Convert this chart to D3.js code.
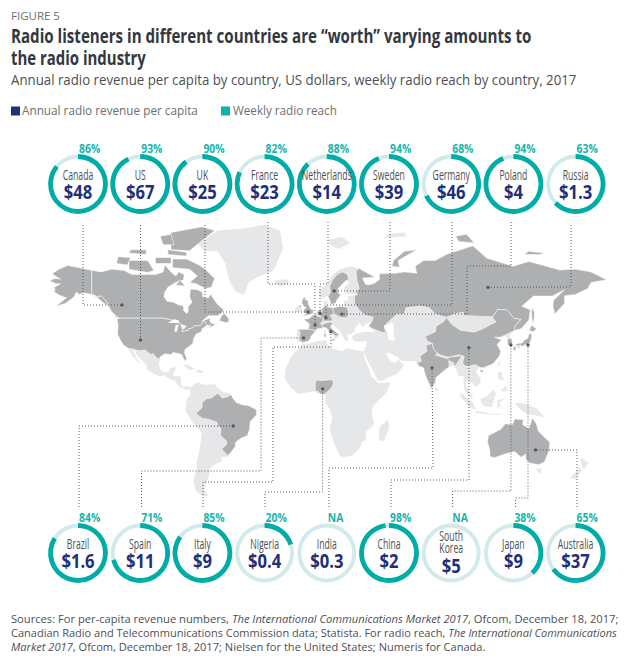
<!DOCTYPE html>
<html>
<head>
<meta charset="utf-8">
<script src="https://cdn.jsdelivr.net/npm/d3@7"></script>
<style>
  html, body { margin: 0; padding: 0; background: #fff; }
  text { font-family: "Open Sans", sans-serif; }
</style>
</head>
<body>
<div id="chart-area"></div>
<script>
// ---- chart values ----
const topCountries = ["Canada","US","UK","France","Netherlands","Sweden","Germany","Poland","Russia"]
const topReach = [86,93,90,82,88,94,68,94,63]
const topRevenue = ["$48","$67","$25","$23","$14","$39","$46","$4","$1.3"]

const bottomCountries = ["Brazil","Spain","Italy","Nigeria","India","China","South Korea","Japan","Australia"]
const bottomReach = [84,71,85,20,null,98,null,38,65]
const bottomRevenue = ["$1.6","$11","$9","$0.4","$0.3","$2","$5","$9","$37"]

// marked location of each country, [lon, lat]
const topSpots = [[-121.5,55.3],[-109.6,37.5],[-1.9,52],[2.6,45.5],[5.8,51.3],[14.8,61.5],[9.6,49.2],[19.9,51],[113.8,63]]
const bottomSpots = [[-50,-16],[-4.8,38.6],[12.7,42],[7.5,7.8],[77.8,21],[101.5,33],[128.5,34.6],[139.5,34.6],[144.3,-30.5]]

// ---- land outlines, [lon, lat] ----
const alaska = [[-141,69.6],[-148,70.4],[-156.5,71.3],[-162,70],[-166.5,68.3],[-163,67],[-161,66.3],[-165,66.5],[-168,65.6],[-164,64.5],[-161,64.5],[-165,63],[-164.5,61.5],[-166,61.5],[-162,59.8],[-158,58.7],[-157,58.7],[-164,54.7],[-158,56],[-154,58],[-152,59.3],[-151,61],[-149,60],[-146,60.7],[-141,60],[-137,58.5],[-133,56],[-130,55],[-131,56.5],[-135,59.5],[-137,59],[-141,60.3]]
const canada = [[-141,69.6],[-135,69],[-128,70],[-120,69.5],[-115,68],[-108,68],[-100,68],[-95,69],[-94,71.5],[-90,69],[-87,67.5],[-85,69],[-81.5,68],[-82,66],[-87,65],[-92,63],[-94,61],[-94.5,59],[-92.5,57],[-88,56.5],[-85,55.3],[-82,55],[-82,52.8],[-80,51.3],[-79,52],[-79,54.5],[-76.5,56.5],[-78,59],[-77.5,62.3],[-73,62],[-70,61],[-69.5,59],[-66,58.5],[-64.5,60.2],[-62,57.5],[-60,55.5],[-56,53],[-58,51.2],[-60,50.2],[-66,50.2],[-70,47.5],[-65,49],[-65,47.5],[-64,46.3],[-61,46],[-60,46.8],[-63,45],[-66,44],[-64.5,45.5],[-67,45.2],[-67.8,47],[-69.3,47.4],[-71,45.2],[-75,45],[-76.5,44],[-79,43.4],[-79,42.8],[-83,42],[-82.5,45],[-84.5,46.5],[-88,48],[-89.5,48],[-95,49],[-123,49],[-125,50],[-128,52],[-130,54.5],[-130,55],[-131,56.5],[-135,59.5],[-137,59],[-141,60.3]]
const canadaIslands = [
  [[-80,73.5],[-72,71.5],[-68,70],[-62,66.5],[-64,63],[-68,62.5],[-74,64.5],[-78,65],[-73,67.5],[-78,70],[-89,70.5],[-89,73.5]],
  [[-117,70],[-105,68.8],[-101,69.5],[-105,73],[-117,73]],
  [[-125,72],[-118,71.5],[-116,74],[-124,74.3]],
  [[-90,76.5],[-78,76.2],[-72,78.5],[-62,82],[-70,83],[-90,81.5]],
  [[-92,75],[-80,74.5],[-80,75.7],[-92,76.5]],
  [[-117,75.5],[-106,75],[-106,76.5],[-116,76.5]],
  [[-95,78],[-88,78],[-90,81],[-97,80.5]],
  [[-100,72],[-90,72],[-90,74],[-100,74]],
  [[-87,64],[-81,63.5],[-84,65.8]],
  [[-59,47.7],[-55,46.8],[-52.8,47],[-53,49],[-56,51.5],[-57.5,50]],
  [[-128,50.7],[-123.5,48.5],[-125,50]]
]
const usa = [[-123,49],[-95,49],[-89.5,48],[-88,48],[-84.5,46.5],[-82.5,45],[-83,42],[-79,42.8],[-79,43.4],[-76.5,44],[-75,45],[-71,45.2],[-69.3,47.4],[-67.8,47],[-67,45.2],[-70,43.5],[-70.5,42],[-74,40.6],[-75.5,38],[-76,35.5],[-78,34],[-81,32],[-81.3,30],[-80,26.8],[-80.5,25.2],[-82,26.5],[-83,29],[-85,29.7],[-89,30.3],[-89.5,29],[-94,29.5],[-97.2,27.5],[-97.2,26],[-99.5,27.5],[-101.5,29.7],[-103,29],[-106.5,31.7],[-111,31.3],[-114.8,32.5],[-117.2,32.6],[-120.6,34.6],[-122.5,37.5],[-124.3,40.4],[-124,46],[-124.7,48.3]]
const mexico = [[-117.2,32.6],[-114.8,32.5],[-111,31.3],[-106.5,31.7],[-103,29],[-101.5,29.7],[-99.5,27.5],[-97.2,26],[-97.8,22.5],[-96,19],[-94,18.2],[-91,18.7],[-90.5,21],[-87,21.5],[-88,18],[-88.8,15.9],[-84,15.8],[-83.3,13],[-83.7,10.8],[-82,9],[-79.5,9.5],[-77.3,8.7],[-78,7.5],[-80.3,7.3],[-83,8.3],[-85.7,10],[-87.5,13],[-91,14],[-94.5,16.2],[-97,15.8],[-101.5,17.5],[-105.5,20],[-105.5,22.5],[-109,25.8],[-112.5,29.5],[-113,31.2],[-114.8,31.8],[-111,25],[-109.5,23],[-112,25],[-115,28.5]]
const southAmerica = [[-77.3,8.7],[-75,11],[-72,12],[-71,11],[-68,10.5],[-62,10.7],[-60,8.5],[-57,6],[-52,4.8],[-50,1.5],[-48,-1],[-44,-2.5],[-40,-3],[-35.2,-5.5],[-35,-9],[-39,-13],[-39.5,-18],[-41,-22],[-45,-23.5],[-48.5,-26],[-48.7,-28.5],[-52,-32.5],[-54,-34.7],[-58,-34.5],[-57,-37],[-62,-39],[-65,-41],[-65.5,-45],[-68,-50],[-68.5,-52.5],[-65.5,-55],[-70,-55],[-74.5,-52],[-75.5,-47],[-73.5,-42],[-73.5,-37],[-71.5,-30],[-70.2,-20],[-76,-14],[-81,-6],[-80,-2],[-80,1],[-77.5,4],[-78,7.5]]
const brazil = [[-51.5,4],[-50,1.5],[-48,-1],[-44,-2.5],[-40,-3],[-35.2,-5.5],[-35,-9],[-39,-13],[-39.5,-18],[-41,-22],[-45,-23.5],[-48.5,-26],[-48.7,-28.5],[-52,-32.5],[-53.5,-33.7],[-57.5,-30],[-54,-27],[-54.5,-25],[-58,-22],[-58,-17],[-60,-16],[-60.5,-13.5],[-65,-12],[-70,-11],[-74,-8],[-70,-4.3],[-70,-1],[-67,1.5],[-64,2],[-60,5],[-57,2],[-54,2.5]]
const africa = [[-5.9,35.8],[-2,35],[3,36.8],[10,37.3],[11,34],[15,32.3],[20,31],[23,32.7],[32,31],[34.2,31.3],[34,28],[35.5,24],[37,21],[39,15.5],[43,11.5],[51,11.8],[49,6],[44,1],[40,-3],[39,-7],[40.5,-15],[35,-20],[35.5,-24],[32.8,-26],[31,-30],[26,-34],[20,-34.8],[18,-33],[15,-27],[12,-18],[13.7,-11],[12,-5],[9,-1],[9.5,3.7],[6,4.3],[2,6.3],[-4,5.2],[-8,4.5],[-13,8.5],[-17,14.7],[-16.5,20],[-13,27.5],[-9.7,31],[-6.5,34]]
const nigeria = [[2.7,6.4],[2.8,12],[4,13.5],[7,13],[10,13.3],[13.5,13.7],[14.5,11.5],[13.5,9],[11.8,7],[8.8,4.5],[6,4.3],[4.5,6.3]]
const eurasia = [[-9,37],[-9.3,38.7],[-8.8,43.2],[-1.5,43.5],[-1,46],[-4.7,48.4],[-1.5,48.7],[1.5,50.5],[4,52],[6,53.5],[8.5,54],[8.2,57],[10.5,57.5],[10.5,55],[12,54.2],[14,54],[18.5,54.7],[21,55.3],[21.3,57.3],[24,57.2],[23.5,59.3],[28,59.6],[30,60],[25,60.2],[21.5,60.7],[21.5,63],[25,65],[22.5,65.8],[17.5,62.5],[17.5,60.7],[19,59.8],[16.5,57.5],[16,56.2],[13,55.5],[11.5,58.5],[10.5,59.3],[8,58.1],[5.3,59],[5,62],[10,64],[14,68],[19,70],[25.5,71],[31,70.2],[41,67],[33,66.7],[35,64.3],[37,64],[40.5,64.6],[44,66],[44,68.3],[54,68.5],[60,69],[68,68.5],[67,71],[72.5,73],[80,73],[87,75],[104,77.7],[113,73.8],[130,71],[140,72.7],[160,69.7],[170,70],[180,69],[190,66],[180,65],[178,62.5],[170,60],[163,59.5],[163,56],[156.7,51],[155.5,55],[156,57.5],[163,62],[155,59.3],[143,59.3],[135.5,54.7],[141,53],[140,48],[135,43.5],[132,43],[130,42.3],[127.5,39.7],[129.4,37],[129,35.2],[126.5,34.5],[126.5,37.7],[125,39.7],[121.5,39],[118,39],[122.5,37.3],[119.5,35],[122,31],[121,28],[117,23.5],[110.5,21],[108,21.6],[106,19],[109,14],[109,11.5],[105,8.7],[105,10.5],[100.5,13.5],[99.5,10],[103.5,4],[104,1.3],[101,3],[98.3,8],[98,16],[94.5,16],[94,19],[91.5,22.5],[88.5,21.7],[86.5,20],[80.3,15],[80,12],[77.5,8],[74.5,14],[72.8,19],[72.5,21],[69,22.3],[67,25],[62,25.2],[57,25.7],[56.5,27],[50.5,30],[48,30],[50,26.5],[51.5,25],[54,24],[56.3,26],[59.8,22.5],[55,17],[52,16],[45,12.8],[43,13],[39,21],[35,28],[34.2,31.3],[35.8,35.5],[36,36.8],[30.5,36.3],[27.3,37],[26.3,39.5],[29,41],[35,42],[41.5,41.5],[37,44.8],[39,47],[35,46],[33.5,44.5],[31,46.5],[28.5,44],[28,41.8],[26,40.7],[23,40.5],[24,38],[22.5,36.5],[19.5,41],[19,42.3],[13.8,45.6],[12.3,45],[16,41.5],[18.5,40],[16,38],[12,42],[8.8,44.3],[4,43.5],[3,42],[0,39.5],[-0.5,38],[-2,36.8],[-5.5,36]]
const russia = [[28,59.6],[30,60],[29,61],[31,62.5],[29.5,66],[29,69.5],[31,70.2],[41,67],[33,66.7],[35,64.3],[37,64],[40.5,64.6],[44,66],[44,68.3],[54,68.5],[60,69],[68,68.5],[67,71],[72.5,73],[80,73],[87,75],[104,77.7],[113,73.8],[130,71],[140,72.7],[160,69.7],[170,70],[180,69],[190,66],[180,65],[178,62.5],[170,60],[163,59.5],[163,56],[156.7,51],[155.5,55],[156,57.5],[163,62],[155,59.3],[143,59.3],[135.5,54.7],[141,53],[140,48],[135,43.5],[132,43],[130.7,42.3],[131,45],[135,48.4],[130.5,48.8],[126,53],[120,53.3],[117,49.7],[108,50],[98,50.3],[98,52],[92,51],[87,49.3],[80,51],[76,54],[70,55],[61,54],[60,51],[55,51],[49,46.5],[47,45],[47.5,43],[48.5,41.8],[46,41.5],[40,43.5],[37,44.8],[39,47],[40,49.6],[35,50.3],[32,52.2],[31,53],[28,56]]
const russiaIslands = [
  [[142,54],[143.5,52],[143.5,49],[142.5,46],[142,49],[141.7,52]],
  [[52,71],[57,70.7],[56,73],[68,76.5],[60,76],[53,73]],
  [[95,79],[105,78.5],[100,81],[93,80.5]],
  [[137,75],[147,75],[150,75.5],[140,76]]
]
const china = [[73.5,39.5],[80,42],[80.5,45],[85,47],[87,49.3],[91,45.5],[96,42.8],[105,41.7],[111,43.7],[116,46],[119,47],[116,49.8],[117,49.7],[120,53.3],[126,53],[130.5,48.8],[135,48.4],[131,45],[130.7,42.5],[128,41.5],[124.3,40],[121.5,39],[118,39],[122.5,37.3],[119.5,35],[122,31],[121,28],[117,23.5],[110.5,21],[108,21.6],[106,23],[102,22.3],[99,22],[97.5,24],[98.5,28],[95,29],[89,27.5],[84,28.5],[81,30],[78.5,32.5],[78,35.5],[74.5,37]]
const hainan = [[109,20],[111,19.5],[110,18.2],[108.7,18.7]]
const india = [[74,34.5],[78,35.5],[78.5,32.5],[81,30],[80,28.7],[88,26.5],[89,27.5],[92,27.8],[97,28.3],[94,24],[92.5,22],[91.5,24.3],[88.5,25.5],[88.8,21.7],[86.5,20],[80.3,15],[80,12],[77.5,8],[74.5,14],[72.8,19],[72.5,21],[69,22.3],[68.5,24.3],[71,25],[70,28],[74.5,31]]
const southKorea = [[126.3,37.7],[128.3,38.5],[129.4,37],[129.3,35.3],[126.5,34.4]]
const japan = [
  [[131,34],[133,35.5],[136,35.8],[137,37.3],[139.5,38.5],[140,40.5],[141.3,41.3],[142,39.5],[140.8,35.8],[139,35],[136.8,34.5],[135.5,33.6],[135,34.6],[132.5,34]],
  [[140,42],[141.7,45.4],[145,43.5],[143,42],[141,42.5]],
  [[129.8,33.3],[131.8,33.7],[131.5,31.5],[130.3,31.3]],
  [[132.3,33.2],[134.5,34.2],[134.2,33.3],[133,32.8]]
]
const britain = [[-5.5,50],[1.3,51.2],[1.7,52.7],[0,53.5],[-1.7,55.5],[-2,57.6],[-4,57.7],[-3,58.6],[-5,58.6],[-6,56.5],[-4.8,54.8],[-3,54],[-4.5,53.3],[-5,51.7],[-3,51.3]]
const northernIreland = [[-8,54.3],[-5.6,54.5],[-6.5,55.2],[-7.5,55.1]]
const france = [[-4.7,48.4],[-1.5,48.7],[1.5,50.5],[2.6,51],[4.2,50],[6,49.5],[8.2,49],[7.6,47.6],[6,46.3],[7,45.8],[7.5,44],[4,43.5],[3,42.5],[-1.7,43.3],[-1,46]]
const corsica = [[8.6,42.5],[9.5,43],[9.4,41.5],[8.8,41.5]]
const netherlands = [[3.5,51.4],[4.8,53],[7,53.4],[7,52],[6,50.9],[4,51.3]]
const germany = [[6,50.9],[7,52],[7,53.4],[9,54.8],[11,54.3],[14,54],[14.7,51],[12.2,50.3],[13.8,48.7],[13,47.5],[7.6,47.6],[8.2,49],[6,49.5]]
const poland = [[14,54],[18.5,54.7],[22.8,54.4],[24,52.5],[24,50.5],[22.5,49.1],[19,49.4],[14.7,51]]
const sweden = [[11,59],[12.5,61],[12,63.5],[14,66],[17,68.2],[20.5,69],[23.7,67.9],[24,65.8],[22.5,65.8],[17.5,62.5],[17.5,60.7],[19,59.8],[16.5,57.5],[16,56.2],[13,55.5],[11.5,58.5]]
const spain = [[-9,43],[-1.7,43.3],[3,42.5],[0,39.5],[-0.5,38],[-2,36.8],[-5.5,36],[-7.3,37.2],[-7,42]]
const italy = [[7,45.8],[9,46.3],[12,47],[13.8,46.5],[13.8,45.6],[12.3,45],[13.5,43.5],[16,41.8],[18.5,40],[16.8,40],[16,38],[15.5,40],[12,42],[10,44],[8.8,44.3],[7.5,44]]
const sicily = [[12.5,38],[15.5,38.2],[15,36.7]]
const sardinia = [[8.3,41],[9.7,41],[9.5,39],[8.5,39]]
const australia = [[114,-22],[113.5,-26],[115,-31],[115,-34.3],[118,-35],[124,-33],[131,-31.5],[135,-34.8],[138,-33],[138,-35.6],[140.5,-38],[146.5,-39],[150,-37.5],[153,-31],[153.5,-26],[149,-22],[146,-19],[145,-15],[142.5,-10.7],[141,-15],[140,-17.5],[136,-15],[136.5,-12],[131,-11.5],[129.5,-15],[125,-14.5],[122,-18],[117,-20.5]]

const otherLand = [
  mexico, southAmerica, africa, eurasia,
  [[-73,78.3],[-60,82],[-45,82.5],[-30,83.5],[-20,82],[-18,77],[-22,72],[-25,69],[-33,67.5],[-40,65],[-43,60],[-48,61],[-52,65],[-54,69],[-55,72],[-60,76],[-68,76]], // greenland
  [[-24,65.5],[-22,64],[-18.5,63.4],[-14,64.5],[-15,66.2],[-20,66]], // iceland
  [[-10,52],[-6.2,52.2],[-6,54],[-6.5,55.2],[-8.5,55],[-10,54]], // ireland
  [[12,78],[18,76.7],[25,78.5],[20,80.3],[11,79.5]], // svalbard
  [[47,80],[62,80.5],[60,81.5],[50,81]], // franz josef
  [[-85,22],[-80,23.2],[-74.2,20.2],[-78,19.9],[-82,22.5]], // cuba
  [[-74.4,18.5],[-72.5,20],[-68.4,18.6],[-71,18]], // hispaniola
  [[49.3,-12],[50.4,-16],[47,-25],[44,-25],[43.5,-21],[44.5,-16]], // madagascar
  [[80,9.7],[82,7.5],[80.6,6],[79.8,8]], // sri lanka
  [[121,25],[122,25],[120.8,22],[120,23]], // taiwan
  [[95.5,5.5],[98,4],[104,-1],[106,-5.8],[102,-4],[97,1.5]], // sumatra
  [[105.5,-6.5],[114.5,-7.5],[114.5,-8.7],[106,-7.6]], // java
  [[109,1.5],[113,3],[117,7],[119,5],[117.5,1],[116,-4],[111,-3.3],[109,0]], // borneo
  [[119.5,-5.5],[120,0.7],[125,1.5],[121,-1],[123,-5],[121,-3]], // sulawesi
  [[131,-1],[138,-1.7],[145,-5],[150.5,-10.5],[147,-9.8],[143,-9],[138,-8],[133,-4]], // new guinea
  [[120,18.5],[122.3,18.3],[124,13],[120.5,14]], // luzon
  [[122,7],[125.5,9.8],[126.5,7],[124,6]], // mindanao
  [[124,-9.8],[127,-8.4],[123.5,-10.3]], // timor
  [[115,-8.3],[122,-8.2],[122,-8.9],[115,-8.8]], // sunda
  [[144.7,-41],[148.3,-41],[147.8,-43],[146,-43.5]], // tasmania
  [[173,-35],[178.5,-37.7],[175.5,-41.5],[174,-39]], // nz north
  [[172.7,-40.5],[174,-41.8],[170.5,-46.5],[166.5,-46],[170,-43]] // nz south
]
const markedLand = [
  alaska, canada, ...canadaIslands, usa, brazil, nigeria, russia, ...russiaIslands,
  china, hainan, india, southKorea, ...japan, britain, northernIreland, france, corsica,
  netherlands, germany, poland, sweden, spain, italy, sicily, sardinia, australia
]
const waterBodies = [
  [[47,45],[53,46.8],[53,42],[54,37],[50,37.3],[49,41]], // caspian
  [[-92,46.7],[-88,48.5],[-85,47.8],[-84.7,46.5],[-87,46.5]], // superior
  [[-87.8,42],[-86.3,42],[-85,45.7],[-87,45.5]], // michigan
  [[-84,46],[-80,45],[-81.7,43.3],[-83,44]] // huron
]

// ---- layout ----
const WIDTH = 635, HEIGHT = 661
const TOP_Y = 184, BOTTOM_Y = 553
const R_RING = 27.5

const svg = d3.select("#chart-area").append("svg")
  .attr("width", WIDTH)
  .attr("height", HEIGHT)
  .style("display","block")

// miller cylindrical, the reference map fits it well
const miller = lat => {
  const phi = lat*Math.PI/180
  return 1.25*Math.log(Math.tan(Math.PI/4 + 0.4*phi))
}
const xMap = d3.scaleLinear().domain([0,180]).range([311,591])
const yMap = d3.scaleLinear().domain([0,1]).range([401,312])
const project = d => [xMap(d[0]), yMap(miller(d[1]))]
const ringPath = ring => d3.line()(ring.map(project)) + "Z"

const map = svg.append("g")
map.selectAll("path.other")
  .data(otherLand).enter().append("path")
    .attr("class","other")
    .attr("d", ringPath)
    .attr("fill","#e6e7e8")
map.selectAll("path.marked")
  .data(markedLand).enter().append("path")
    .attr("class","marked")
    .attr("d", ringPath)
    .attr("fill","#adafb1")
    .attr("stroke","#fff")
    .attr("stroke-width",0.5)
map.selectAll("path.water")
  .data(waterBodies).enter().append("path")
    .attr("class","water")
    .attr("d", ringPath)
    .attr("fill","#fff")

// leader elbows, from the ring down (or up) to the bend before the dot
const topLeaders = [
  [[83,225],[83,305]],
  [[140.5,225]],
  [[205,225],[205,312]],
  [[268,222],[268,284],[315,284]],
  [[328,222],[328,284],[320,284]],
  [[390,222],[390,291]],
  [[452,222],[452,305],[326,305]],
  [[511,222],[511,266],[467,266],[467,314]],
  [[571,225],[571,287]]
]
const bottomLeaders = [
  [[79,507],[79,426]],
  [[141.5,507],[141.5,471],[261,471],[261,338]],
  [[203,507],[203,482],[273,482],[273,347],[331,347]],
  [[265,507],[265,492],[322.6,492]],
  [[329,507],[329,468],[433,468]],
  [[391,507],[391,480],[469,480]],
  [[452.6,507],[452.6,491],[511,491]],
  [[515.6,507],[515.6,498],[528,498]],
  [[577,507],[577,450]]
]

const leaderLine = d3.line()
function drawLeaders(leaders, spots) {
  const g = svg.append("g")
  g.selectAll("path")
    .data(leaders).enter().append("path")
      .attr("d",(d,i) => leaderLine([...d, project(spots[i])]))
      .attr("fill","none")
      .attr("stroke","#58595b")
      .attr("stroke-width",1)
      .attr("stroke-dasharray","1 2")
  g.selectAll("circle")
    .data(spots).enter().append("circle")
      .attr("cx",d => project(d)[0])
      .attr("cy",d => project(d)[1])
      .attr("r",1.7)
      .attr("fill","#58595b")
}
drawLeaders(topLeaders, topSpots)
drawLeaders(bottomLeaders, bottomSpots)

// ---- rings ----
const xRing = d3.scalePoint().domain(d3.range(9)).range([78,575.6])
const angle = d3.scaleLinear().domain([0,100]).range([0,2*Math.PI])
const trackArc = d3.arc().innerRadius(R_RING-2).outerRadius(R_RING+2).startAngle(0).endAngle(2*Math.PI)
const bandArc = d3.arc().innerRadius(R_RING-2.4).outerRadius(R_RING+2.4).startAngle(0)

// condensed look: Open Sans squeezed along x
function squeezed(sel, text, x, y, size, weight, fill, sx, anchor) {
  return sel.append("text")
    .attr("transform",`translate(${x},${y}) scale(${sx},1)`)
    .attr("text-anchor",anchor)
    .attr("font-size",size)
    .attr("font-weight",weight)
    .attr("fill",fill)
    .text(text)
}

function drawRow(countries, reach, revenue, cy) {
  countries.forEach((name,i) => {
    const cx = xRing(i)
    const g = svg.append("g").attr("class","ring")
    g.append("path")
      .attr("transform",`translate(${cx},${cy})`)
      .attr("d",trackArc())
      .attr("fill","#d3eaeb")
    if (reach[i] !== null) {
      g.append("path")
        .attr("transform",`translate(${cx},${cy})`)
        .attr("d",bandArc({endAngle:angle(reach[i])}))
        .attr("fill","#00aca6")
    }
    const pct = reach[i] === null ? "NA" : reach[i]+"%"
    squeezed(g, pct, cx+1, cy-31.5, 13, 700, "#17b5ae", 0.8, "start")
    const lines = name === "South Korea" ? ["South","Korea"] : [name]
    if (lines.length === 2) {
      squeezed(g, lines[0], cx, cy-12, 14, 400, "#4d4f53", 0.62, "middle")
      squeezed(g, lines[1], cx, cy, 14, 400, "#4d4f53", 0.62, "middle")
      squeezed(g, revenue[i], cx, cy+20, 20, 700, "#1f2f78", 0.83, "middle")
    } else {
      squeezed(g, lines[0], cx, cy-4.5, 14, 400, "#4d4f53", 0.62, "middle")
      squeezed(g, revenue[i], cx, cy+14.5, 20, 700, "#1f2f78", 0.83, "middle")
    }
  })
}
drawRow(topCountries, topReach, topRevenue, TOP_Y)
drawRow(bottomCountries, bottomReach, bottomRevenue, BOTTOM_Y)

// squeeze a measured text to the width it has in the reference
function fitWidth(sel, x, y, w) {
  const len = sel.node().getComputedTextLength()
  sel.attr("transform",`translate(${x},${y}) scale(${w/len},1)`)
}

// ---- header ----
const header = [
  {t:"FIGURE 5", x:11, y:20, w:49, size:11, weight:400, fill:"#6d6e71"},
  {t:"Radio listeners in different countries are \u201cworth\u201d varying amounts to", x:11, y:43, w:521, size:19.5, weight:700, fill:"#33383f"},
  {t:"the radio industry", x:11, y:65, w:135, size:19.5, weight:700, fill:"#33383f"},
  {t:"Annual radio revenue per capita by country, US dollars, weekly radio reach by country, 2017", x:11, y:85, w:566, size:14, weight:400, fill:"#4d4f53"},
  {t:"Annual radio revenue per capita", x:22, y:115, w:176, size:12, weight:400, fill:"#6d6e71"},
  {t:"Weekly radio reach", x:233, y:115, w:104, size:12, weight:400, fill:"#6d6e71"}
]
header.forEach(d => {
  const t = svg.append("text")
    .attr("class","head")
    .attr("font-size",d.size)
    .attr("font-weight",d.weight)
    .attr("fill",d.fill)
    .text(d.t)
  fitWidth(t, d.x, d.y, d.w)
})

svg.append("rect").attr("x",11).attr("y",106.5).attr("width",9).attr("height",9).attr("fill","#1f3278")
svg.append("rect").attr("x",221).attr("y",106.5).attr("width",9).attr("height",9).attr("fill","#0db2ac")

// ---- sources ----
const sourceLines = [
  {y:623, w:608, parts:[["Sources: For per-capita revenue numbers, ",0],["The International Communications Market 2017",1],[", Ofcom, December 18, 2017;",0]]},
  {y:637, w:606, parts:[["Canadian Radio and Telecommunications Commission data; Statista. For radio reach, ",0],["The International Communications",1]]},
  {y:651, w:475, parts:[["Market 2017",1],[", Ofcom, December 18, 2017; Nielsen for the United States; Numeris for Canada.",0]]}
]
sourceLines.forEach(l => {
  const t = svg.append("text")
    .attr("font-size",11).attr("fill","#4d4f53")
  l.parts.forEach(p => t.append("tspan").attr("font-style",p[1] ? "italic" : "normal").text(p[0]))
  fitWidth(t, 11, l.y, l.w)
})
</script>
</body>
</html>
